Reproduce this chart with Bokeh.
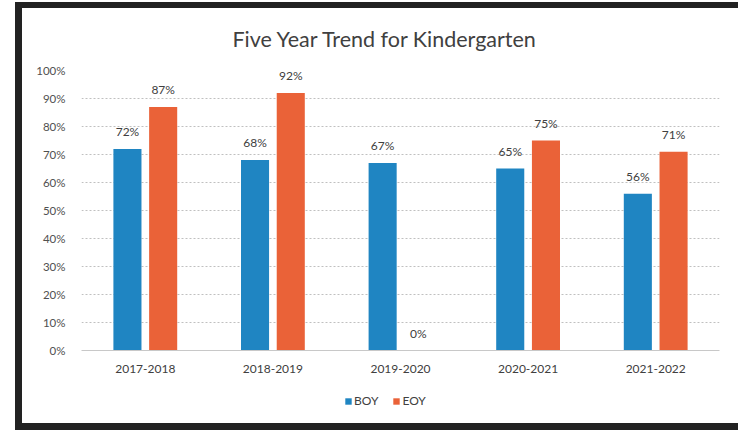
from bokeh.plotting import figure
from bokeh.layouts import column
from bokeh.models import (ColumnDataSource, FactorRange, Range1d, NumeralTickFormatter,
                          Legend, LegendItem, FixedTicker, InlineStyleSheet)
from bokeh.transform import dodge
from bokeh.core.properties import value
from bokeh.embed import file_html
from bokeh.resources import INLINE

years = ["2017-2018", "2018-2019", "2019-2020", "2020-2021", "2021-2022"]
boy = [0.72, 0.68, 0.67, 0.65, 0.56]
eoy = [0.87, 0.92, 0.00, 0.75, 0.71]
boy_labels = ["72%", "68%", "67%", "65%", "56%"]
eoy_labels = ["87%", "92%", "0%", "75%", "71%"]
series = ["BOY", "EOY"]

BLUE = "#1f85c2"
ORANGE = "#ea6238"
FONT = "Lato"

src = ColumnDataSource(dict(years=years, boy=boy, eoy=eoy,
                            boy_labels=boy_labels, eoy_labels=eoy_labels))

W = 738
H_MAIN, H_LEG = 385, 45
FL, FR, FT, FB = 81, 719, 70, 350  # frame edges in page pixels

p = figure(width=W, height=H_MAIN, x_range=FactorRange(*years), y_range=Range1d(0, 1),
           output_backend="svg", toolbar_location=None,
           min_border_left=FL, min_border_right=W - FR, min_border_top=FT,
           min_border_bottom=H_MAIN - FB)
p.outline_line_color = None
p.background_fill_color = "white"
p.border_fill_color = "white"

p.title.text = "Five Year Trend for Kindergarten"
p.title.align = "left"
p.title.offset = 151
p.title.standoff = 38
p.title.text_font = FONT
p.title.text_font_size = "21.5px"
p.title.text_font_style = "normal"
p.title.text_color = "#404040"

r1 = p.vbar(x=dodge("years", -0.14, range=p.x_range), top="boy", width=0.22, source=src,
            fill_color=BLUE, line_color=None)
r2 = p.vbar(x=dodge("years", 0.14, range=p.x_range), top="eoy", width=0.22, source=src,
            fill_color=ORANGE, line_color=None)

p.text(x=dodge("years", -0.14, range=p.x_range), y="boy", text="boy_labels", source=src,
       text_align="center", text_baseline="bottom", y_offset=-10,
       text_font=value(FONT), text_font_size="12px", text_color="#404040")
p.text(x=dodge("years", 0.14, range=p.x_range), y="eoy", text="eoy_labels", source=src,
       text_align="center", text_baseline="bottom", y_offset=-10,
       text_font=value(FONT), text_font_size="12px", text_color="#404040")

# axes
p.yaxis.ticker = FixedTicker(ticks=[i / 10 for i in range(11)])
p.yaxis.formatter = NumeralTickFormatter(format="0%")
p.yaxis.axis_line_color = None
p.yaxis.major_tick_line_color = None
p.yaxis.minor_tick_line_color = None
p.yaxis.major_label_standoff = 10
p.yaxis.major_label_text_font = FONT
p.yaxis.major_label_text_font_size = "11.5px"
p.yaxis.major_label_text_color = "#505050"

p.xaxis.axis_line_color = "#c8c8c8"
p.xaxis.major_tick_line_color = None
p.xaxis.minor_tick_line_color = None
p.xaxis.major_label_standoff = 8
p.xaxis.major_label_text_font = FONT
p.xaxis.major_label_text_font_size = "12px"
p.xaxis.major_label_text_color = "#404040"

p.xgrid.grid_line_color = None
p.ygrid.grid_line_color = "#c0c0c0"
p.ygrid.grid_line_dash = "2 2"
p.ygrid.grid_line_width = 1

# legend strip below the chart (frame aligned with the chart frame by the column)
leg = figure(width=W, height=H_LEG, x_range=Range1d(0, 1), y_range=Range1d(0, 1),
             output_backend="svg", toolbar_location=None,
             x_axis_type=None, y_axis_type=None, min_border=0)
leg.outline_line_color = None
leg.grid.grid_line_color = None
leg.border_fill_color = "white"
# zero-height proxy bars: they only lend their colours to the legend swatches
lr1 = leg.vbar(x=[0.5], top=[0], bottom=[0], width=0.1, fill_color=BLUE, line_color=None)
lr2 = leg.vbar(x=[0.5], top=[0], bottom=[0], width=0.1, fill_color=ORANGE, line_color=None)
legend = Legend(items=[LegendItem(label=series[0], renderers=[lr1]),
                       LegendItem(label=series[1], renderers=[lr2])],
                orientation="horizontal", location=(344 - FL, 22),
                glyph_width=8, glyph_height=8, label_text_font=FONT,
                label_text_font_size="12px", label_text_color="#404040",
                border_line_color=None, background_fill_alpha=0,
                spacing=14, label_standoff=2, padding=0, margin=0)
leg.add_layout(legend)

layout = column(p, leg, spacing=0)

# scanned black border drawn around the chart area
layout.stylesheets = [InlineStyleSheet(css="""
:host { position: relative; }
:host::after {
  content: ""; position: absolute; left: 15px; top: 2px; width: 723px; height: 428px;
  box-sizing: border-box; border-left: 7px solid #222; border-top: 6px solid #222;
  border-bottom: 7px solid #222; pointer-events: none; z-index: 10;
}
""")]

open("out.html", "w").write(file_html(layout, INLINE))
